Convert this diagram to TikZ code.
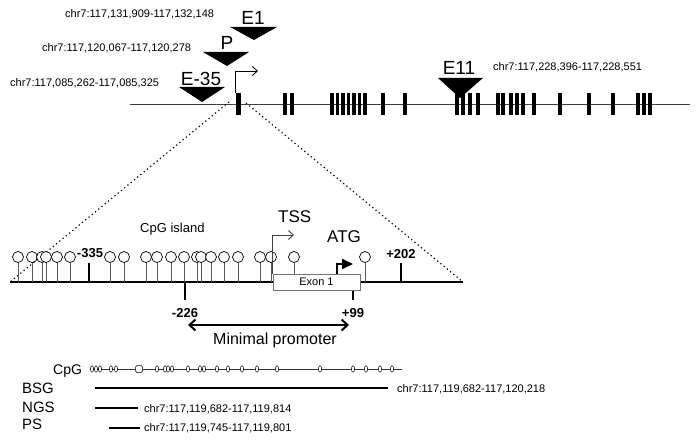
\documentclass[tikz,border=0pt]{standalone}
\usepackage{fontspec}
\setmainfont{Liberation Sans}
\usetikzlibrary{arrows.meta,shapes.geometric}
\begin{document}
\begin{tikzpicture}[x=1pt,y=-1pt,
  smalltxt/.style={font=\fontsize{11}{13}\selectfont, inner sep=0pt},
  bigtxt/.style={font=\fontsize{19}{21}\selectfont, inner sep=0pt},
  midtxt/.style={font=\fontsize{17}{19}\selectfont, inner sep=0pt},
  boldtxt/.style={font=\fontsize{13}{15}\selectfont\bfseries, inner sep=0pt},
  rowtxt/.style={font=\fontsize{15}{17}\selectfont, inner sep=0pt},
  exonbar/.style={fill=black, minimum width=3.8pt, minimum height=22pt, inner sep=0pt},
  tri/.style={fill=black},
  lolli/.style={circle, draw=black, fill=white, minimum size=11pt, inner sep=0pt, line width=0.7pt},
  stem/.style={draw=black!65, line width=0.8pt},
  tick/.style={draw=black, line width=2pt},
  cpgmark/.style={ellipse, draw=black, fill=white, minimum width=3.2pt, minimum height=6.5pt, inner sep=0pt, line width=0.5pt},
  fragline/.style={draw=black, line width=2pt},
  zoomline/.style={draw=black, line width=1.2pt, dash pattern=on 1.2pt off 3pt},
]
\useasboundingbox (0,0) rectangle (700,441);

% ---------- genome line ----------
\coordinate (gL) at (130,104);
\coordinate (gR) at (690,104);
\draw[black!75, line width=0.9pt] (gL) -- (gR);
\node[exonbar, minimum width=5pt] (ex1) at (238.5,104) {};
\foreach \x [count=\i from 2] in {285,292,332,337.5,343,348.5,354,359.5,365,383,405,457,463,470,478,498,503,511,517,523,534,560,589,613,638,644,650}
  \node[exonbar] (ex\i) at (\x,104) {};

% ---------- probes (triangles) ----------
\fill[tri] (230,27) -- (277,27) -- (254,40) -- cycle;
\node[bigtxt, anchor=base] (e1) at (253,25) {E1};
\node[smalltxt, anchor=base west] (e1pos) at (65,18) {chr7:117,131,909-117,132,148};

\fill[tri] (203,52) -- (249,52) -- (227,66) -- cycle;
\node[bigtxt, anchor=base] (p) at (227,50) {P};
\node[smalltxt, anchor=base west] (ppos) at (42,52) {chr7:117,120,067-117,120,278};

\fill[tri] (179,87) -- (225,87) -- (202,102) -- cycle;
\node[bigtxt, anchor=base] (e35) at (201,86) {E-35};
\node[smalltxt, anchor=base west] (e35pos) at (10,87) {chr7:117,085,262-117,085,325};

\fill[tri] (438,78) -- (483,78) -- (460,98) -- cycle;
\node[bigtxt, anchor=base] (e11) at (459,75) {E11};
\node[smalltxt, anchor=base west] (e11pos) at (493,71) {chr7:117,228,396-117,228,551};

% top TSS arrow
\coordinate (tssTip) at (258,71);
\draw[black, line width=0.9pt, -{Straight Barb[length=5pt,width=9pt]}]
  (ex1.north west) ++(-0.5,0) |- (tssTip);

% ---------- zoom lines ----------
\coordinate (zL) at (10,282);
\coordinate (zR) at (463,282);
\coordinate (zL0) at (229,102);
\coordinate (zR0) at (246,103);
\draw[zoomline] (zL0) -- (zL);
\draw[zoomline] (zR0) -- (zR);

% ---------- promoter line ----------
\draw[black, line width=2pt] (zL) -- (zR);

% exon 1 box
\node[draw=black!55, fill=white, line width=1pt, minimum width=87pt, minimum height=16pt, inner sep=0pt,
      font=\fontsize{11}{13}\selectfont] (exon1) at (316.5,282) {Exon 1};

% lollipops
\foreach \x [count=\i] in {18,32,42,46,57,70,110,124,146,157,171,184,197,201,211,224,238,260,271,365} {
  \coordinate (b\i) at (\x,282);
  \draw[stem] (\x,262) -- (b\i);
  \node[lolli] (c\i) at (\x,257) {};
}
\coordinate (bx) at (294,274);
\draw[stem] (294,262) -- (bx);
\node[lolli] (cx) at (294,257) {};

% ticks
\coordinate (t335) at (89,282);
\draw[tick] (89,263) -- (t335);
\node[boldtxt, anchor=base] (l335) at (90,257) {-335};
\coordinate (t202) at (401,282);
\draw[tick] (401,263) -- (t202);
\node[boldtxt, anchor=base] (l202) at (401,258) {+202};
\coordinate (t226) at (185,300);
\draw[tick] (185,282) -- (t226);
\node[boldtxt, anchor=base] (l226) at (185,317) {-226};
\coordinate (t99) at (353,300);
\draw[tick] (exon1.south -| t99) -- (t99);
\node[boldtxt, anchor=base] (l99) at (353,317) {+99};

% labels
\node[font=\fontsize{13}{15}\selectfont, inner sep=0pt, anchor=base west] (cpgisl) at (140,232.5) {CpG island};
\node[midtxt, anchor=base west] (tss) at (278,222) {TSS};
\node[midtxt, anchor=base west] (atg) at (327,242) {ATG};

% TSS arrow
\coordinate (tss2) at (294,235);
\draw[black!75, line width=0.9pt, -{Straight Barb[length=5pt,width=9pt]}]
  (exon1.north west) |- (tss2);

% ATG arrow
\coordinate (atgBase) at (337,274);
\coordinate (atgTip) at (353,264);
\draw[black, line width=1.8pt, -{Triangle[length=11pt,width=10pt]}]
  (atgBase) |- (atgTip);

% minimal promoter
\coordinate (mpL) at (188,325);
\coordinate (mpR) at (349,325);
\draw[black, line width=2pt, {Straight Barb[length=6pt,width=11pt]}-{Straight Barb[length=6pt,width=11pt]}] (mpL) -- (mpR);
\node[font=\fontsize{16}{18}\selectfont, inner sep=0pt, anchor=base] (mp) at (275,344) {Minimal promoter};

% ---------- bottom rows ----------
\node[font=\fontsize{14}{16}\selectfont, inner sep=0pt, anchor=base west] (cpgl) at (53,374) {CpG};
\coordinate (cpgA) at (90,369);
\coordinate (cpgB) at (402,369);
\draw[black!80, line width=0.9pt] (cpgA) -- (cpgB);
\foreach \x [count=\i] in {92,96,100,111,116,157,165,168,172,188,200,204,217,228,242,257,277,320,353,366,380,392}
  \node[cpgmark] (m\i) at (\x,369) {};
\node[draw=black, fill=white, rounded corners=1.5pt, minimum width=7pt, minimum height=7pt, inner sep=0pt, line width=0.5pt] (mbox) at (139,369) {};

\node[rowtxt, anchor=base west] (bsg) at (22,393) {BSG};
\node[rowtxt, anchor=base west] (ngs) at (22,412) {NGS};
\node[rowtxt, anchor=base west] (ps) at (22,429) {PS};

\coordinate (bsgA) at (95,388);
\coordinate (bsgB) at (388,388);
\draw[fragline] (bsgA) -- (bsgB);
\node[smalltxt, anchor=base west] (bsgpos) at (397,392) {chr7:117,119,682-117,120,218};

\coordinate (ngsA) at (95,408);
\coordinate (ngsB) at (138,408);
\draw[fragline] (ngsA) -- (ngsB);
\node[smalltxt, anchor=base west] (ngspos) at (144,412) {chr7:117,119,682-117,119,814};

\coordinate (psA) at (109,428);
\coordinate (psB) at (140,428);
\draw[fragline] (psA) -- (psB);
\node[smalltxt, anchor=base west] (pspos) at (144,431) {chr7:117,119,745-117,119,801};
\end{tikzpicture}
\end{document}
